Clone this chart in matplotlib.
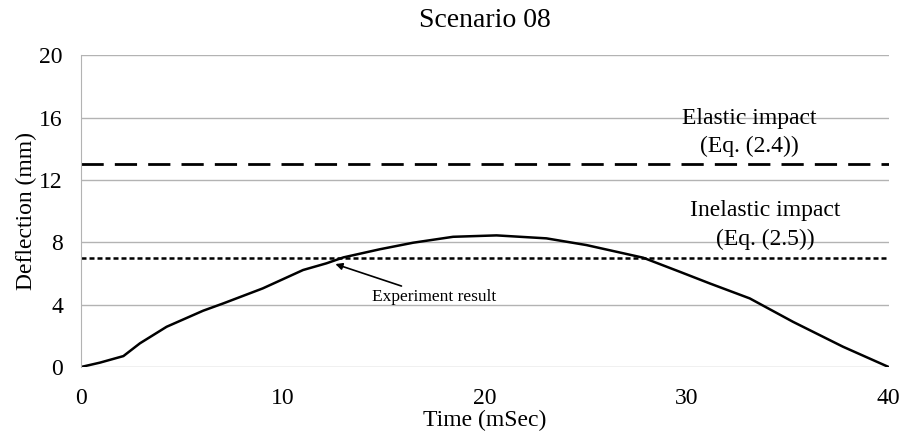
import numpy as np
import matplotlib.pyplot as plt

plt.rcParams['font.family'] = ['Liberation Serif', 'DejaVu Serif']

# experiment curve
time_ms = [0, 0.94, 2.1, 2.92, 4.24, 6.05, 7.05, 9.0, 11.0, 12.16, 13.0, 14.8, 16.45, 18.43,
           20.58, 23.05, 25.03, 27.84, 29.65, 31.14, 33.12, 35.26, 37.74, 40]
deflection = [0, 0.28, 0.7, 1.52, 2.58, 3.61, 4.08, 5.04, 6.22, 6.65, 7.03, 7.55, 7.97, 8.35,
              8.44, 8.25, 7.82, 7.01, 6.11, 5.36, 4.4, 2.9, 1.3, 0]

elastic = 13.0
inelastic = 7.0

fig = plt.figure(figsize=(9.04, 4.41), dpi=100)
ax = fig.add_axes([0.0896, 0.1678, 0.8934, 0.7072])

ax.set_xlim(0, 40)
ax.set_ylim(0, 20)
ax.set_xticks([0, 10, 20, 30, 40])
ax.set_yticks([0, 4, 8, 12, 16, 20])
ax.yaxis.grid(True, color='#b3b3b3', lw=1)
ax.set_axisbelow(True)
for s in ['top', 'right', 'bottom']:
    ax.spines[s].set_visible(False)
ax.spines['left'].set_color('#b3b3b3')
ax.tick_params(axis='x', length=0, labelsize=17, pad=15)
ax.tick_params(axis='y', length=0, labelsize=17, pad=13)

ax.axhline(elastic, color='black', lw=2, dashes=(8, 4))
ax.axhline(inelastic, color='black', lw=1.8, dashes=(2, 1.2))
ax.plot(time_ms, deflection, color='black', lw=1.8, solid_joinstyle='round')

ax.text(33.1, 15.05, 'Elastic impact\n(Eq. (2.4))', ha='center', va='center', fontsize=17, linespacing=1.45)
ax.text(33.9, 9.1, 'Inelastic impact\n(Eq. (2.5))', ha='center', va='center', fontsize=17, linespacing=1.45)
ax.annotate('Experiment result', xy=(12.6, 6.6), xytext=(14.4, 4.5), fontsize=12.5, va='center',
            arrowprops=dict(arrowstyle='-|>', color='black', lw=1.2, mutation_scale=10, shrinkA=0, shrinkB=0))

ax.set_title('Scenario 08', fontsize=20, pad=20)
ax.set_xlabel('Time (mSec)', fontsize=17, labelpad=1)
ax.set_ylabel('Deflection (mm)', fontsize=17, labelpad=2)

fig.savefig('out.png', dpi=100)
